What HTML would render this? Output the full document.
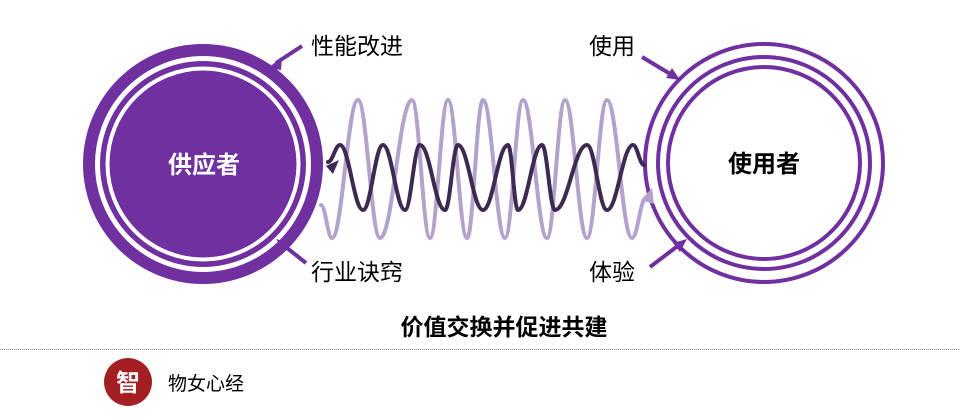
<!DOCTYPE html>
<html><head><meta charset="utf-8"><style>
html,body{margin:0;padding:0;background:#fff;width:960px;height:419px;overflow:hidden}
svg text{font-family:"Liberation Sans","Noto Sans CJK SC",sans-serif}
</style></head><body>
<svg width="960" height="419" viewBox="0 0 960 419" xmlns="http://www.w3.org/2000/svg">
<!-- left circle -->
<circle cx="203" cy="164" r="120" fill="#7030a0"/>
<circle cx="203" cy="164" r="105.5" fill="none" stroke="#fff" stroke-width="5"/>
<circle cx="203" cy="164" r="95.5" fill="none" stroke="#fff" stroke-width="4"/>
<text x="204" y="173" text-anchor="middle" font-size="24" font-weight="bold" fill="#fff">供应者</text>
<!-- right circle -->
<circle cx="764" cy="163" r="119" fill="none" stroke="#7030a0" stroke-width="4"/>
<circle cx="764" cy="163" r="106" fill="none" stroke="#7030a0" stroke-width="4"/>
<circle cx="764" cy="163" r="96" fill="none" stroke="#7030a0" stroke-width="4"/>
<text x="764" y="172" text-anchor="middle" font-size="24" font-weight="bold" fill="#000">使用者</text>
<path id="lw" fill="none" stroke="#b3a2cc" stroke-width="4" stroke-linecap="round" d=""/>
<path id="dw" fill="none" stroke="#3d2a52" stroke-width="4" stroke-linecap="round" d=""/>
<path d="M641,200 L652,188 L654,204 z" fill="#b3a2cc"/>
<path d="M326,166 L339,160 L333,174 z" fill="#3d2a52"/>
<g stroke="#7030a0" stroke-width="4" fill="none">
<line x1="302" y1="46" x2="276" y2="63"/>
<line x1="306" y1="263" x2="282" y2="244"/>
<line x1="642" y1="57" x2="672" y2="75"/>
<line x1="650" y1="267" x2="679" y2="245"/>
</g>
<g fill="#7030a0">
<path d="M268,68 L282,57 L281,70 z"/>
<path d="M276,239 L291,243 L284,251 z"/>
<path d="M680,80 L666,78 L672,68 z"/>
<path d="M687,239 L680,252 L673,243 z"/>
</g>
<g font-size="23" fill="#000">
<text x="311" y="54">性能改进</text>
<text x="311" y="280">行业诀窍</text>
<text x="589" y="54">使用</text>
<text x="589" y="280">体验</text>
</g>
<text x="504" y="335" text-anchor="middle" font-size="23" font-weight="bold" fill="#000">价值交换并促进共建</text>
<line x1="0" y1="349.5" x2="960" y2="349.5" stroke="#888" stroke-width="1" stroke-dasharray="1,1"/>
<circle cx="128" cy="382" r="24" fill="#a31f24"/>
<text x="128" y="391" text-anchor="middle" font-size="24" font-weight="bold" fill="#fff">智</text>
<text x="168" y="390" font-size="19" fill="#000">物女心经</text>
</svg>
<script>
function mk(pts){let d="M"+pts[0].join(",");for(let i=1;i<pts.length;i++){const[a,b]=pts[i-1],[c,e]=pts[i];const k=(c-a)*0.4;d+=` C${a+k},${b} ${c-k},${e} ${c},${e}`;}return d;}
const D=[[328,162],[340,145],[363,210],[383,145],[405,210],[420,145],[445,210],[458,145],[483,210],[508,145],[518,210],[542,145],[555,210],[587,145],[607,210],[633,145],[644,165]];
const L=[[321,205],[332,238],[358,100],[380,238],[412,100],[430,238],[448,100],[467,238],[483,100],[505,238],[523,100],[547,238],[565,100],[587,238],[607,100],[632,238],[646,198]];
document.getElementById('dw').setAttribute('d',mk(D));
document.getElementById('lw').setAttribute('d',mk(L));
</script>
</body></html>
